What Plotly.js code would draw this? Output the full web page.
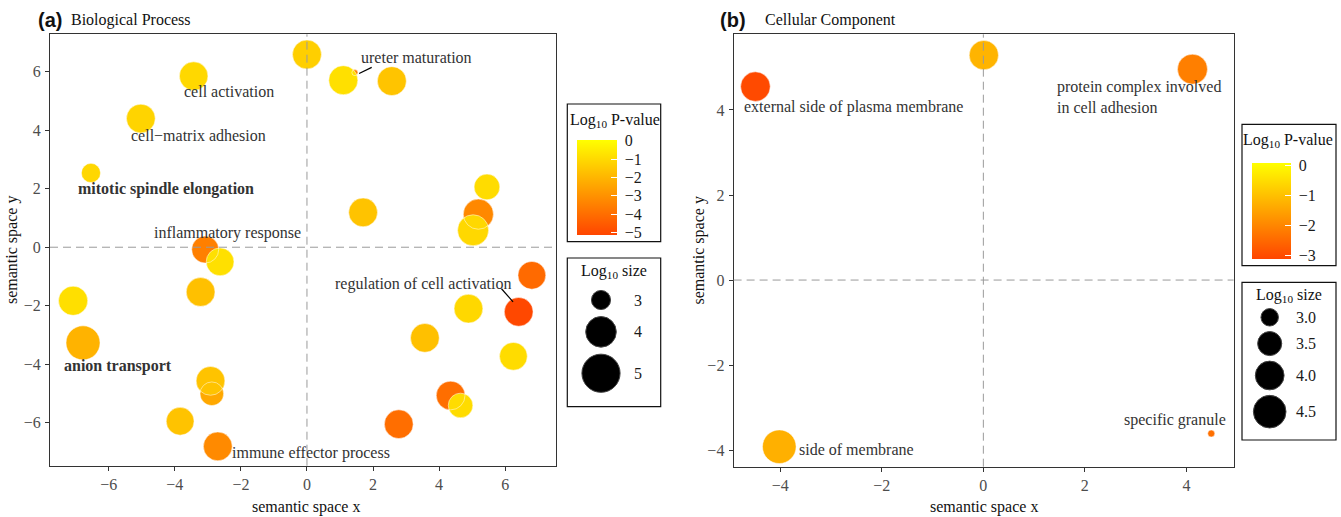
<!DOCTYPE html>
<html><head><meta charset="utf-8">
<script src="https://cdn.plot.ly/plotly-3.0.1.min.js"></script>
<style>html,body{margin:0;padding:0;background:#fff}#chart{width:1341px;height:517px}</style>
</head><body><div id="chart"></div>
<script>
// ===== DATA =====
// Panel (a) Biological Process
const bpX = [0.00,-3.43,1.10,1.45,2.57,-5.03,-6.54,5.45,1.70,5.19,5.03,-3.08,-2.63,6.81,-3.22,-7.08,-6.78,4.89,6.41,3.57,6.25,-2.92,-2.88,4.35,4.65,-3.84,2.78,-2.70];
const bpY = [6.59,5.85,5.71,5.97,5.68,4.40,2.54,2.06,1.19,1.13,0.58,-0.08,-0.50,-0.96,-1.53,-1.83,-3.27,-2.10,-2.21,-3.10,-3.73,-4.57,-5.01,-5.07,-5.41,-5.95,-6.05,-6.81];
const bpLogP = [-1.29,-1.04,-0.81,-3.49,-1.59,-1.15,-1.06,-0.92,-1.62,-3.26,-1.04,-3.51,-0.81,-4.10,-1.70,-0.84,-2.07,-1.04,-5.05,-1.70,-0.92,-1.62,-2.37,-3.99,-0.92,-1.62,-3.99,-3.21];
const bpLogSize = [3.82,3.78,3.83,2.60,3.82,3.80,3.00,3.50,3.80,3.95,4.05,3.62,3.70,3.70,3.80,3.85,4.42,3.80,3.80,3.80,3.70,3.80,3.32,3.80,3.40,3.70,3.80,3.80];
const bpLabels = ['cell activation','cell\u2212matrix adhesion','mitotic spindle elongation','inflammatory response','ureter maturation','regulation of cell activation','anion transport','immune effector process'];
const bpLabelX = [-2.35,-3.27,-4.27,-2.40,3.32,3.51,-5.72,0.12];
const bpLabelY = [5.32,3.83,1.98,0.50,6.49,-1.25,-4.05,-7.02];
const bpLabelBold = [false,false,true,false,false,false,true,false];
const bpLeaderX = [[1.96,1.58],[5.89,6.24]];
const bpLeaderY = [[6.15,5.94],[-1.42,-1.87]];
const bpPTicks = [0,-1,-2,-3,-4,-5];
const bpSizeBreaks = [3,4,5];
const bpSizeLabels = ['3','4','5'];

// Panel (b) Cellular Component
const ccX = [0.01,-4.49,4.12,-4.02,4.49];
const ccY = [5.29,4.55,4.96,-3.92,-3.61];
const ccLogP = [-1.23,-3.05,-2.14,-1.30,-2.40];
const ccLogSize = [4.06,4.10,4.15,4.64,2.70];
const ccLabels = ['external side of plasma membrane','protein complex involved\nin cell adhesion','side of membrane','specific granule'];
const ccLabelX = [-2.56,1.42,-2.50,3.77];
const ccLabelY = [4.06,4.31,-3.98,-3.29];
const ccLabelAnchor = ['center','left','center','center'];
const ccPTicks = [0,-1,-2,-3];
const ccSizeBreaks = [3.0,3.5,4.0,4.5];
const ccSizeLabels = ['3.0','3.5','4.0','4.5'];

// ===== STYLE / LAYOUT =====
const W = 1341, H = 517;
const PX = x => x / W;
const PY = y => 1 - y / H;
const SERIF = 'Liberation Serif, "Times New Roman", serif';
const SANS = 'Liberation Sans, Arial, sans-serif';
const COLORSCALE = [[0,'#FF4500'],[1,'#FFFF00']];
const minus = v => v < 0 ? '\u2212' + Math.abs(v) : String(v);

const sizeA = v => 6 + 33.5 * Math.sqrt(Math.max(0, (v - 2.6) / 2.6));
const sizeB = v => 7 + 27 * Math.sqrt(Math.max(0, (v - 2.7) / 2.0));

const panels = [
  {id:'', X:bpX, Y:bpY, P:bpLogP, S:bpLogSize, sizeFn:sizeA,
   box:{l:50, r:556, t:34.3, b:465.7}, xr:[-7.78,7.54], yr:[-7.47,7.28],
   xt:[-6,-4,-2,0,2,4,6], yt:[-6,-4,-2,0,2,4,6],
   cmin:-5.13, cmax:0.04, ticks:bpPTicks, tickText:bpPTicks.map(minus),
   cbar:{x:576.7, top:140, len:95, thick:40},
   cbox:{l:567.3, r:660.7, t:104, b:241.7}, ctitle:{x:614.5, y:120.7},
   sbox:{l:567.3, r:660.7, t:258, b:406.7}, stitle:{x:614.3, y:271.7},
   keyX:601, keyY0:300, keyPad:7, keyLabelX:632, legAxis:'3',
   breaks:bpSizeBreaks, breakLabels:bpSizeLabels,
   tag:'(a)', tagX:49.5, title:'Biological Process', titleX:69.3,
   xtitleX:306.3, ytitleX:12},
  {id:'2', X:ccX, Y:ccY, P:ccLogP, S:ccLogSize, sizeFn:sizeB,
   box:{l:733.6, r:1233.6, t:34.3, b:466.7}, xr:[-4.92,4.93], yr:[-4.39,5.78],
   xt:[-4,-2,0,2,4], yt:[-4,-2,0,2,4],
   cmin:-3.14, cmax:0.06, ticks:ccPTicks, tickText:ccPTicks.map(minus),
   cbar:{x:1252, top:163.3, len:96, thick:39},
   cbox:{l:1242, r:1336, t:124.3, b:265.7}, ctitle:{x:1288, y:140},
   sbox:{l:1242, r:1336, t:282.3, b:440}, stitle:{x:1289, y:295.7},
   keyX:1269.7, keyY0:317.3, keyPad:5.5, keyLabelX:1294, legAxis:'4',
   breaks:ccSizeBreaks, breakLabels:ccSizeLabels,
   tag:'(b)', tagX:732.7, title:'Cellular Component', titleX:763.2,
   xtitleX:984, ytitleX:698}
];

const traces = [];
const layout = {
  width:W, height:H, margin:{l:0,r:0,t:0,b:0},
  paper_bgcolor:'#fff', plot_bgcolor:'#fff',
  showlegend:false, hovermode:false,
  annotations:[], shapes:[]
};

panels.forEach((p) => {
  const xa = 'x' + p.id, ya = 'y' + p.id;
  const xk = 'xaxis' + p.id, yk = 'yaxis' + p.id;
  const axCommon = {showline:true, mirror:true, linecolor:'#333', linewidth:1,
    ticks:'outside', ticklen:4, tickcolor:'#333', tickwidth:1,
    showgrid:false, zeroline:false, fixedrange:true, automargin:false,
    tickfont:{family:SERIF, size:16, color:'#4D4D4D'}};
  layout[xk] = Object.assign({}, axCommon, {domain:[PX(p.box.l), PX(p.box.r)], range:p.xr,
    tickvals:p.xt, ticktext:p.xt.map(minus), anchor:ya, ticklabelstandoff:0});
  layout[yk] = Object.assign({}, axCommon, {domain:[PY(p.box.b), PY(p.box.t)], range:p.yr,
    tickvals:p.yt, ticktext:p.yt.map(minus), anchor:xa, ticklabelstandoff:1});

  // draw order: most significant first, least significant on top
  const order = p.X.map((_, i) => i).sort((a, b) => p.P[a] - p.P[b]);
  const ox = order.map(i => p.X[i]), oy = order.map(i => p.Y[i]);
  const op = order.map(i => p.P[i]), os = order.map(i => p.sizeFn(p.S[i]));

  traces.push({type:'scatter', mode:'markers', x:ox, y:oy, xaxis:xa, yaxis:ya, opacity:1,
    marker:{color:op, colorscale:COLORSCALE, cmin:p.cmin, cmax:p.cmax, size:os,
      opacity:1, line:{width:0}, showscale:true,
      colorbar:{x:PX(p.cbar.x), xanchor:'left', y:PY(p.cbar.top), yanchor:'top',
        len:p.cbar.len, lenmode:'pixels', thickness:p.cbar.thick, thicknessmode:'pixels',
        xpad:0, ypad:0, outlinewidth:0, borderwidth:0,
        tickvals:p.ticks, ticktext:p.tickText.map(t => '\u00a0' + t),
        ticks:'inside', ticklen:6, tickcolor:'#fff', tickwidth:1,
        tickfont:{family:SERIF, size:16, color:'#1a1a1a'}}},
    hoverinfo:'skip'});
  traces.push({type:'scatter', mode:'markers', x:ox, y:oy, xaxis:xa, yaxis:ya,
    marker:{color:'rgba(0,0,0,0)', size:os, line:{width:1, color:'rgba(255,255,255,0.7)'}},
    hoverinfo:'skip'});

  // dashed reference lines
  layout.shapes.push({type:'line', xref:xa, yref:ya + ' domain', x0:0, x1:0, y0:0, y1:1,
    line:{color:'#9a9a9a', width:1, dash:'8px,5px'}, layer:'above'});
  layout.shapes.push({type:'line', xref:xa + ' domain', yref:ya, x0:0, x1:1, y0:0, y1:0,
    line:{color:'#9a9a9a', width:1, dash:'8px,5px'}, layer:'above'});

  // legend boxes
  [p.cbox, p.sbox].forEach(b => layout.shapes.push({type:'rect', xref:'paper', yref:'paper',
    x0:PX(b.l), x1:PX(b.r), y0:PY(b.b), y1:PY(b.t), line:{color:'#111', width:1.2}, fillcolor:'rgba(0,0,0,0)'}));

  // legend titles
  layout.annotations.push({xref:'paper', yref:'paper', x:PX(p.ctitle.x), y:PY(p.ctitle.y),
    text:'Log<sub>10</sub>\u00a0P-value', showarrow:false, xanchor:'center', yanchor:'middle',
    font:{family:SERIF, size:16, color:'#111'}});
  layout.annotations.push({xref:'paper', yref:'paper', x:PX(p.stitle.x), y:PY(p.stitle.y),
    text:'Log<sub>10</sub>\u00a0size', showarrow:false, xanchor:'center', yanchor:'middle',
    font:{family:SERIF, size:16, color:'#111'}});

  // size legend keys on their own hidden axes (1 unit = 1 px)
  const lx = 'x' + p.legAxis, ly = 'y' + p.legAxis;
  const diams = p.breaks.map(p.sizeFn);
  const offs = [0];
  for (let i = 1; i < diams.length; i++) offs.push(offs[i-1] + (diams[i-1] + diams[i]) / 2 + p.keyPad);
  layout['xaxis' + p.legAxis] = {domain:[PX(p.sbox.l), PX(p.sbox.r)], range:[p.sbox.l - p.keyX, p.sbox.r - p.keyX],
    visible:false, fixedrange:true, anchor:ly};
  layout['yaxis' + p.legAxis] = {domain:[PY(p.sbox.b), PY(p.sbox.t)], range:[p.sbox.b - p.keyY0, p.sbox.t - p.keyY0],
    visible:false, fixedrange:true, anchor:lx};
  traces.push({type:'scatter', mode:'markers', x:offs.map(() => 0), y:offs, xaxis:lx, yaxis:ly, opacity:1,
    marker:{color:'#000000', opacity:1, size:diams, line:{width:1, color:'#444'}}, hoverinfo:'skip'});
  p.breakLabels.forEach((t, i) => layout.annotations.push({xref:lx, yref:ly, x:p.keyLabelX - p.keyX, y:offs[i],
    text:t, showarrow:false, xanchor:'left', yanchor:'middle', font:{family:SERIF, size:16, color:'#1a1a1a'}}));

  // panel tag and title
  layout.annotations.push({xref:'paper', yref:'paper', x:PX(p.tagX), y:PY(20.5), text:'<b>' + p.tag + '</b>',
    showarrow:false, xanchor:'center', yanchor:'middle', font:{family:SANS, size:20, color:'#111'}});
  layout.annotations.push({xref:'paper', yref:'paper', x:PX(p.titleX), y:PY(20.5), text:p.title,
    showarrow:false, xanchor:'left', yanchor:'middle', font:{family:SERIF, size:16, color:'#111'}});
  // axis titles
  layout.annotations.push({xref:'paper', yref:'paper', x:PX(p.xtitleX), y:PY(506.5), text:'semantic space x',
    showarrow:false, xanchor:'center', yanchor:'middle', font:{family:SERIF, size:16, color:'#111'}});
  layout.annotations.push({xref:'paper', yref:'paper', x:PX(p.ytitleX), y:PY((p.box.t + p.box.b) / 2), text:'semantic space y',
    showarrow:false, textangle:-90, xanchor:'center', yanchor:'middle', font:{family:SERIF, size:16, color:'#111'}});
});

// leader segments (a)
bpLeaderX.forEach((lx, i) => traces.push({type:'scatter', mode:'lines', x:lx, y:bpLeaderY[i], xaxis:'x', yaxis:'y',
  line:{color:'#000', width:1.2}, hoverinfo:'skip'}));

// text labels (a)
bpLabels.forEach((t, i) => layout.annotations.push({xref:'x', yref:'y', x:bpLabelX[i], y:bpLabelY[i],
  text:bpLabelBold[i] ? '<b>' + t + '</b>' : t, showarrow:false, xanchor:'center', yanchor:'middle',
  font:{family:SERIF, size:16, color:'#333'}}));

// text labels (b)
ccLabels.forEach((t, i) => layout.annotations.push({xref:'x2', yref:'y2', x:ccLabelX[i], y:ccLabelY[i],
  text:t.split('\n').join('<br>'), showarrow:false, xanchor:ccLabelAnchor[i], yanchor:'middle', align:'left',
  font:{family:SERIF, size:16, color:'#333'}}));

Plotly.newPlot('chart', traces, layout, {staticPlot:true, displayModeBar:false});
</script>
</body></html>
